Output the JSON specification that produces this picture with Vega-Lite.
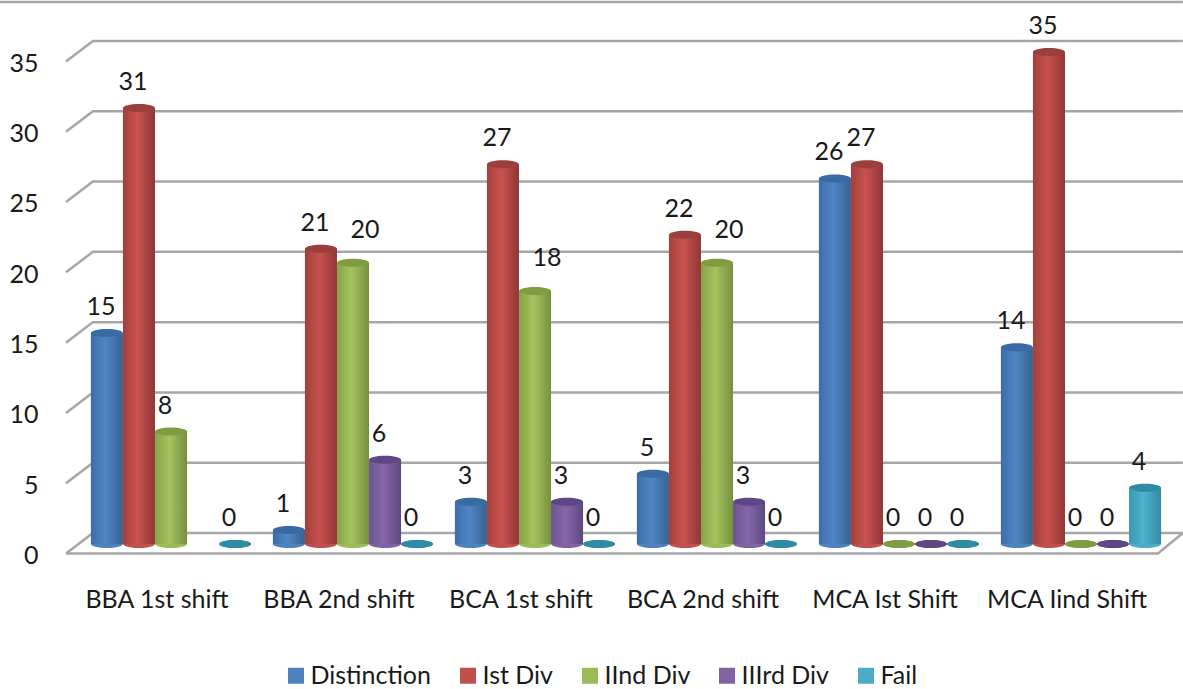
{
"$schema":"https://vega.github.io/schema/vega-lite/v6.json",
"width":1092,"height":560,
"autosize":{"type":"none"},
"padding":{"left":80,"top":0,"right":11,"bottom":129},
"background":"white",
"config":{"view":{"stroke":null},"font":"Lato"},
"datasets":{
"bars":[
{"program":"BBA 1st shift","series":"Distinction","value":15},
{"program":"BBA 1st shift","series":"Ist Div","value":31},
{"program":"BBA 1st shift","series":"IInd Div","value":8},
{"program":"BBA 1st shift","series":"Fail","value":0},
{"program":"BBA 2nd shift","series":"Distinction","value":1},
{"program":"BBA 2nd shift","series":"Ist Div","value":21},
{"program":"BBA 2nd shift","series":"IInd Div","value":20},
{"program":"BBA 2nd shift","series":"IIIrd Div","value":6},
{"program":"BBA 2nd shift","series":"Fail","value":0},
{"program":"BCA 1st shift","series":"Distinction","value":3},
{"program":"BCA 1st shift","series":"Ist Div","value":27},
{"program":"BCA 1st shift","series":"IInd Div","value":18},
{"program":"BCA 1st shift","series":"IIIrd Div","value":3},
{"program":"BCA 1st shift","series":"Fail","value":0},
{"program":"BCA 2nd shift","series":"Distinction","value":5},
{"program":"BCA 2nd shift","series":"Ist Div","value":22},
{"program":"BCA 2nd shift","series":"IInd Div","value":20},
{"program":"BCA 2nd shift","series":"IIIrd Div","value":3},
{"program":"BCA 2nd shift","series":"Fail","value":0},
{"program":"MCA Ist Shift","series":"Distinction","value":26},
{"program":"MCA Ist Shift","series":"Ist Div","value":27},
{"program":"MCA Ist Shift","series":"IInd Div","value":0},
{"program":"MCA Ist Shift","series":"IIIrd Div","value":0},
{"program":"MCA Ist Shift","series":"Fail","value":0},
{"program":"MCA Iind Shift","series":"Distinction","value":14},
{"program":"MCA Iind Shift","series":"Ist Div","value":35},
{"program":"MCA Iind Shift","series":"IInd Div","value":0},
{"program":"MCA Iind Shift","series":"IIIrd Div","value":0},
{"program":"MCA Iind Shift","series":"Fail","value":4}
],
"grid":[
{"line":"g5","step":1,"gx":-0.077,"gy":4.32},{"line":"g5","step":2,"gx":0.071,"gy":5.78},{"line":"g5","step":3,"gx":6.06,"gy":5.78},
{"line":"g10","step":1,"gx":-0.077,"gy":9.32},{"line":"g10","step":2,"gx":0.071,"gy":10.78},{"line":"g10","step":3,"gx":6.06,"gy":10.78},
{"line":"g15","step":1,"gx":-0.077,"gy":14.32},{"line":"g15","step":2,"gx":0.071,"gy":15.78},{"line":"g15","step":3,"gx":6.06,"gy":15.78},
{"line":"g20","step":1,"gx":-0.077,"gy":19.32},{"line":"g20","step":2,"gx":0.071,"gy":20.78},{"line":"g20","step":3,"gx":6.06,"gy":20.78},
{"line":"g25","step":1,"gx":-0.077,"gy":24.32},{"line":"g25","step":2,"gx":0.071,"gy":25.78},{"line":"g25","step":3,"gx":6.06,"gy":25.78},
{"line":"g30","step":1,"gx":-0.077,"gy":29.32},{"line":"g30","step":2,"gx":0.071,"gy":30.78},{"line":"g30","step":3,"gx":6.06,"gy":30.78},
{"line":"g35","step":1,"gx":-0.077,"gy":34.32},{"line":"g35","step":2,"gx":0.071,"gy":35.78},{"line":"g35","step":3,"gx":6.06,"gy":35.78},
{"line":"back0","step":1,"gx":-0.077,"gy":-0.68},{"line":"back0","step":2,"gx":0.071,"gy":0.78},{"line":"back0","step":3,"gx":6.06,"gy":0.78},
{"line":"front0","step":1,"gx":-0.077,"gy":-0.68},{"line":"front0","step":2,"gx":5.923,"gy":-0.68},{"line":"front0","step":3,"gx":6.06,"gy":0.78},
{"line":"frame","step":1,"gx":-0.44,"gy":38.55},{"line":"frame","step":2,"gx":6.06,"gy":38.55}
]
},
"resolve":{"scale":{"x":"independent"}},
"layer":[
{"data":{"name":"grid"},
 "mark":{"type":"line","color":"#a6a6a6","strokeWidth":2.5,"clip":false},
 "encoding":{
  "x":{"field":"gx","type":"quantitative","axis":null,"scale":{"domain":[0,6],"nice":false,"zero":false}},
  "y":{"field":"gy","type":"quantitative","scale":{"domain":[-1.138,38.69],"nice":false,"zero":false},
   "axis":{"title":null,"domain":false,"ticks":false,"grid":false,"values":[0,5,10,15,20,25,30,35],"labelPadding":42,"labelOffset":11.5,"labelFontSize":25,"labelColor":"#1a1a1a","labelBound":false,"labelFlush":false}},
  "detail":{"field":"line"},
  "order":{"field":"step"}
 }},
{"data":{"name":"bars"},
 "mark":{"type":"point","filled":true,"opacity":1,"size":1024,"shape":"M-1,0A1,0.25 0 1,1 1,0A1,0.25 0 1,1 -1,0Z"},
 "encoding":{
  "x":{"field":"program","type":"nominal","sort":null,"scale":{"type":"band","domain":["BBA 1st shift","BBA 2nd shift","BCA 1st shift","BCA 2nd shift","MCA Ist Shift","MCA Iind Shift"],"paddingInner":0,"paddingOuter":0},
   "axis":{"title":null,"domain":false,"ticks":false,"labelAngle":0,"labelOffset":-14,"labelPadding":27,"labelFontSize":25,"labelColor":"#1a1a1a","labelOverlap":false,"labelBound":false,"labelFlush":false}},
  "xOffset":{"field":"series","type":"nominal","sort":["Distinction","Ist Div","IInd Div","IIIrd Div","Fail"],"scale":{"type":"band","domain":["Distinction","Ist Div","IInd Div","IIIrd Div","Fail"],"paddingInner":0,"paddingOuter":0.34}},
  "y":{"datum":0,"type":"quantitative"},
  "color":{"field":"series","type":"nominal","sort":["Distinction","Ist Div","IInd Div","IIIrd Div","Fail"],
   "scale":{"domain":["Distinction","Ist Div","IInd Div","IIIrd Div","Fail"],"range":["#4f81bd","#c0504d","#9bbb59","#8064a2","#4bacc6"]},
   "legend":{"title":null,"orient":"none","legendX":203.5,"legendY":663,"direction":"horizontal","columns":5,"symbolType":"square","symbolSize":256,"symbolStrokeWidth":0,"labelFontSize":25,"labelColor":"#1a1a1a","labelOffset":2,"columnPadding":24,"labelLimit":200}}
 }},
{"data":{"name":"bars"},
 "mark":{"type":"bar"},
 "encoding":{
  "x":{"field":"program","type":"nominal","sort":null,"scale":{"type":"band","domain":["BBA 1st shift","BBA 2nd shift","BCA 1st shift","BCA 2nd shift","MCA Ist Shift","MCA Iind Shift"],"paddingInner":0,"paddingOuter":0},"axis":null},
  "xOffset":{"field":"series","type":"nominal","sort":["Distinction","Ist Div","IInd Div","IIIrd Div","Fail"],"scale":{"type":"band","domain":["Distinction","Ist Div","IInd Div","IIIrd Div","Fail"],"paddingInner":0,"paddingOuter":0.34}},
  "y":{"field":"value","type":"quantitative"},
  "fill":{"condition":[
   {"test":"datum.series==='Distinction'","value":{"gradient":"linear","x1":0,"x2":1,"y1":0,"y2":0,"stops":[{"offset":0,"color":"#3d6da6"},{"offset":0.45,"color":"#4f86c8"},{"offset":1,"color":"#37628f"}]}},
   {"test":"datum.series==='Ist Div'","value":{"gradient":"linear","x1":0,"x2":1,"y1":0,"y2":0,"stops":[{"offset":0,"color":"#a23f3c"},{"offset":0.45,"color":"#c9524f"},{"offset":1,"color":"#8f3735"}]}},
   {"test":"datum.series==='IInd Div'","value":{"gradient":"linear","x1":0,"x2":1,"y1":0,"y2":0,"stops":[{"offset":0,"color":"#86a348"},{"offset":0.45,"color":"#a3c45e"},{"offset":1,"color":"#76913f"}]}},
   {"test":"datum.series==='IIIrd Div'","value":{"gradient":"linear","x1":0,"x2":1,"y1":0,"y2":0,"stops":[{"offset":0,"color":"#6c5490"},{"offset":0.45,"color":"#8666aa"},{"offset":1,"color":"#5e4880"}]}}
   ],"value":{"gradient":"linear","x1":0,"x2":1,"y1":0,"y2":0,"stops":[{"offset":0,"color":"#3a98b2"},{"offset":0.45,"color":"#4db4d0"},{"offset":1,"color":"#348aa2"}]}}
 }},
{"data":{"name":"bars"},
 "mark":{"type":"point","filled":true,"opacity":1,"size":1024,"shape":"M-1,0A1,0.25 0 1,1 1,0A1,0.25 0 1,1 -1,0Z"},
 "encoding":{
  "x":{"field":"program","type":"nominal","sort":null,"scale":{"type":"band","domain":["BBA 1st shift","BBA 2nd shift","BCA 1st shift","BCA 2nd shift","MCA Ist Shift","MCA Iind Shift"],"paddingInner":0,"paddingOuter":0},"axis":null},
  "xOffset":{"field":"series","type":"nominal","sort":["Distinction","Ist Div","IInd Div","IIIrd Div","Fail"],"scale":{"type":"band","domain":["Distinction","Ist Div","IInd Div","IIIrd Div","Fail"],"paddingInner":0,"paddingOuter":0.34}},
  "y":{"field":"value","type":"quantitative"},
  "fill":{"field":"series","type":"nominal","legend":null,
   "scale":{"domain":["Distinction","Ist Div","IInd Div","IIIrd Div","Fail"],"range":["#3a6aa3","#9c3f3c","#7f9c42","#5f4685","#2e8ba3"]}}
 }},
{"data":{"name":"bars"},
 "transform":[{"filter":"!(datum.series==='IInd Div' && datum.value>=18)"}],
 "mark":{"type":"text","fontSize":25,"color":"#1a1a1a","dx":-6,"dy":-26,"baseline":"middle"},
 "encoding":{
  "x":{"field":"program","type":"nominal","sort":null,"scale":{"type":"band","domain":["BBA 1st shift","BBA 2nd shift","BCA 1st shift","BCA 2nd shift","MCA Ist Shift","MCA Iind Shift"],"paddingInner":0,"paddingOuter":0},"axis":null},
  "xOffset":{"field":"series","type":"nominal","sort":["Distinction","Ist Div","IInd Div","IIIrd Div","Fail"],"scale":{"type":"band","domain":["Distinction","Ist Div","IInd Div","IIIrd Div","Fail"],"paddingInner":0,"paddingOuter":0.34}},
  "y":{"field":"value","type":"quantitative"},
  "text":{"field":"value","type":"quantitative"}
 }},
{"data":{"name":"bars"},
 "transform":[{"filter":"datum.series==='IInd Div' && datum.value>=18"}],
 "mark":{"type":"text","fontSize":25,"color":"#1a1a1a","dx":12,"dy":-33,"baseline":"middle"},
 "encoding":{
  "x":{"field":"program","type":"nominal","sort":null,"scale":{"type":"band","domain":["BBA 1st shift","BBA 2nd shift","BCA 1st shift","BCA 2nd shift","MCA Ist Shift","MCA Iind Shift"],"paddingInner":0,"paddingOuter":0},"axis":null},
  "xOffset":{"field":"series","type":"nominal","sort":["Distinction","Ist Div","IInd Div","IIIrd Div","Fail"],"scale":{"type":"band","domain":["Distinction","Ist Div","IInd Div","IIIrd Div","Fail"],"paddingInner":0,"paddingOuter":0.34}},
  "y":{"field":"value","type":"quantitative"},
  "text":{"field":"value","type":"quantitative"}
 }}
]
}
